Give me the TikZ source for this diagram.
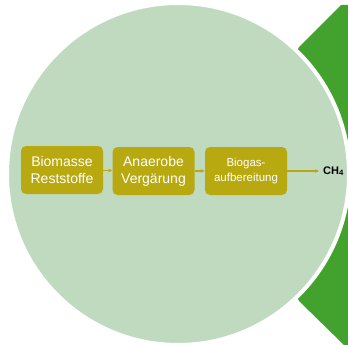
\documentclass[tikz,border=0pt]{standalone}
\usepackage{fontspec}
\setmainfont{Liberation Sans}
\usetikzlibrary{arrows.meta}
\definecolor{circfill}{HTML}{C0DAC0}
\definecolor{darkgreen}{HTML}{43A12D}
\definecolor{olive}{HTML}{B8A910}
\tikzset{
  procbox/.style={fill=olive, rounded corners=5pt, text=white, align=center, minimum width=82pt, minimum height=48pt, inner sep=0pt},
  flow/.style={draw=olive, line width=1.1pt, -{Stealth[length=4pt,width=3.5pt]}}
}
\begin{document}
\begin{tikzpicture}[x=1pt,y=-1pt]
\useasboundingbox (0,0) rectangle (348,345);
% green chevron shape behind circle
\fill[darkgreen] (299,47) -- (341,5) -- (348,5) -- (348,345) -- (344,345) -- (299,301) -- (240,174) -- cycle;
% circle with white rim
\node[circle, fill=circfill, draw=white, line width=4pt, minimum size=342pt, inner sep=0pt] (circ) at (178,174) {};
\node[procbox, font=\fontsize{14}{17}\selectfont] (b1) at (62,170) {Biomasse\\Reststoffe};
\node[procbox, font=\fontsize{14}{17}\selectfont] (b2) at (153.5,171) {Anaerobe\\Vergärung};
\node[procbox, font=\fontsize{11.5}{15}\selectfont] (b3) at (246,171) {Biogas-\\aufbereitung};
\node[anchor=west, font=\bfseries\fontsize{11}{13}\selectfont, inner sep=0pt] (ch4) at (323,171) {CH\textsubscript{4}};
\coordinate (end) at (319,171);
\draw[flow] (b1.east |- 0,170.5) -- (b2.west |- 0,170.5);
\draw[flow] (b2.east |- 0,171) -- (b3.west |- 0,171);
\draw[flow] (b3.east) -- (end);
\end{tikzpicture}
\end{document}
